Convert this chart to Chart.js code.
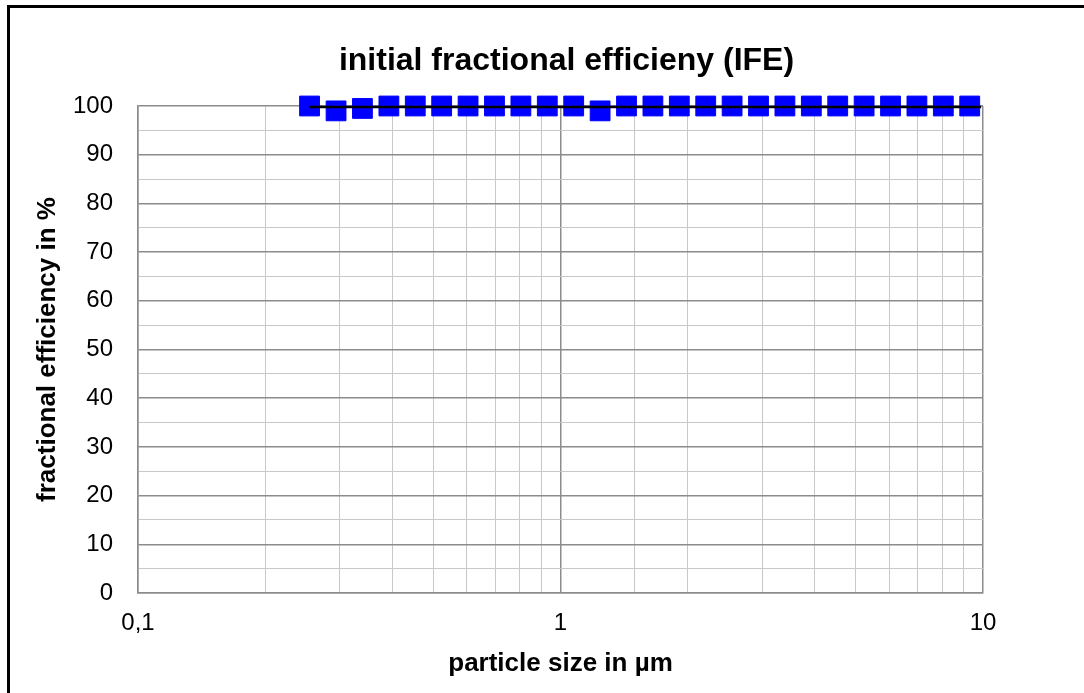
<!DOCTYPE html>
<html>
<head>
<meta charset="utf-8">
<title>initial fractional efficieny (IFE)</title>
<script src="https://cdn.jsdelivr.net/npm/chart.js@4.4.1/dist/chart.umd.min.js"></script>
<style>
    html, body { margin: 0; padding: 0; background: #fff; overflow: hidden; }
    .frame {
        position: absolute; left: 7px; top: 5px; width: 1200px; height: 800px;
        border-left: 3px solid #000; border-top: 3px solid #000;
    }
    #chart { position: absolute; left: 10px; top: 8px; }
</style>
</head>
<body>
<div class="frame"></div>
<canvas id="chart" width="1074" height="685"></canvas>
<script>
// particle sizes in µm (log spaced channels)
const particleSizes = [0.2547, 0.2943, 0.3398, 0.3925, 0.4532, 0.5233, 0.6043, 0.6978, 0.8058, 0.9306,
    1.0746, 1.2409, 1.4330, 1.6548, 1.9108, 2.2065, 2.5479, 2.9423, 3.3975, 3.9234,
    4.5305, 5.2316, 6.0412, 6.9761, 8.0556, 9.3022];
const efficiency = [100, 99.0, 99.5, 100, 100, 100, 100, 100, 100, 100,
    100, 99.0, 100, 100, 100, 100, 100, 100, 100, 100,
    100, 100, 100, 100, 100, 100];
// black reference line
const lineX = [0.2547, 9.9];
const lineY = [99.8, 99.8];
const yTicks = [0, 10, 20, 30, 40, 50, 60, 70, 80, 90, 100];
const xTickLabels = [0.1, 1, 10];

const titleText = 'initial fractional efficieny (IFE)';
const fontName = "'Liberation Sans', Arial, sans-serif";

function isDecade(v) {
    const l = Math.log10(v);
    return Math.abs(l - Math.round(l)) < 1e-6;
}

const titlePlugin = {
    id: 'plotTitle',
    afterDraw(chart) {
        const ctx = chart.ctx;
        const area = chart.chartArea;
        ctx.save();
        ctx.font = "bold 32px " + fontName;
        ctx.fillStyle = '#000';
        ctx.textAlign = 'center';
        ctx.textBaseline = 'middle';
        ctx.fillText(titleText, (area.left + area.right) / 2 + 6, 53);
        ctx.restore();
    }
};

const ctx = document.getElementById('chart').getContext('2d');
new Chart(ctx, {
    type: 'scatter',
    data: {
        datasets: [
            {
                label: 'line',
                data: lineX.map((x, i) => ({ x: x, y: lineY[i] })),
                showLine: true,
                borderColor: '#000',
                borderWidth: 2.5,
                pointRadius: 0,
                clip: false
            },
            {
                label: 'IFE',
                data: particleSizes.map((x, i) => ({ x: x, y: efficiency[i] })),
                showLine: false,
                pointStyle: 'rect',
                pointRadius: 14,
                pointHoverRadius: 14,
                backgroundColor: '#0000ff',
                borderColor: '#0000ff',
                borderWidth: 1,
                clip: false
            }
        ]
    },
    options: {
        responsive: false,
        animation: false,
        layout: { padding: { top: 98, right: 101, left: 0, bottom: 0 } },
        plugins: {
            legend: { display: false },
            title: { display: false },
            tooltip: { enabled: false }
        },
        scales: {
            x: {
                type: 'logarithmic',
                min: 0.1,
                max: 10,
                afterFit(scale) { scale.height = 100; },
                border: { color: '#8c8c8c', width: 1.5 },
                grid: {
                    drawTicks: false,
                    color: c => (c.tick && isDecade(c.tick.value)) ? '#8c8c8c' : '#c8c8c8',
                    lineWidth: c => (c.tick && isDecade(c.tick.value)) ? 1.5 : 1
                },
                ticks: {
                    autoSkip: false,
                    maxRotation: 0,
                    padding: 16,
                    color: '#000',
                    font: { family: fontName, size: 24 },
                    callback: function (value) {
                        const hit = xTickLabels.find(t => Math.abs(t - value) < 1e-9);
                        return hit === undefined ? '' : String(hit).replace('.', ',');
                    }
                },
                title: {
                    display: true,
                    text: 'particle size in µm',
                    color: '#000',
                    font: { family: fontName, size: 26, weight: 'bold' },
                    padding: { top: 0, bottom: 14 }
                }
            },
            y: {
                min: 0,
                max: 100,
                afterFit(scale) { scale.width = 128; },
                border: { color: '#8c8c8c', width: 1.5 },
                grid: {
                    drawTicks: false,
                    color: c => (c.tick && c.tick.value % 10 === 0) ? '#8c8c8c' : '#c8c8c8',
                    lineWidth: c => (c.tick && c.tick.value % 10 === 0) ? 1.5 : 1
                },
                ticks: {
                    stepSize: 5,
                    autoSkip: false,
                    padding: 25,
                    color: '#000',
                    font: { family: fontName, size: 24 },
                    callback: value => yTicks.includes(value) ? value : ''
                },
                title: {
                    display: true,
                    text: 'fractional efficiency in %',
                    color: '#000',
                    font: { family: fontName, size: 26, weight: 'bold' },
                    padding: { top: 22, bottom: 0 }
                }
            }
        }
    },
    plugins: [titlePlugin]
});
</script>
</body>
</html>
